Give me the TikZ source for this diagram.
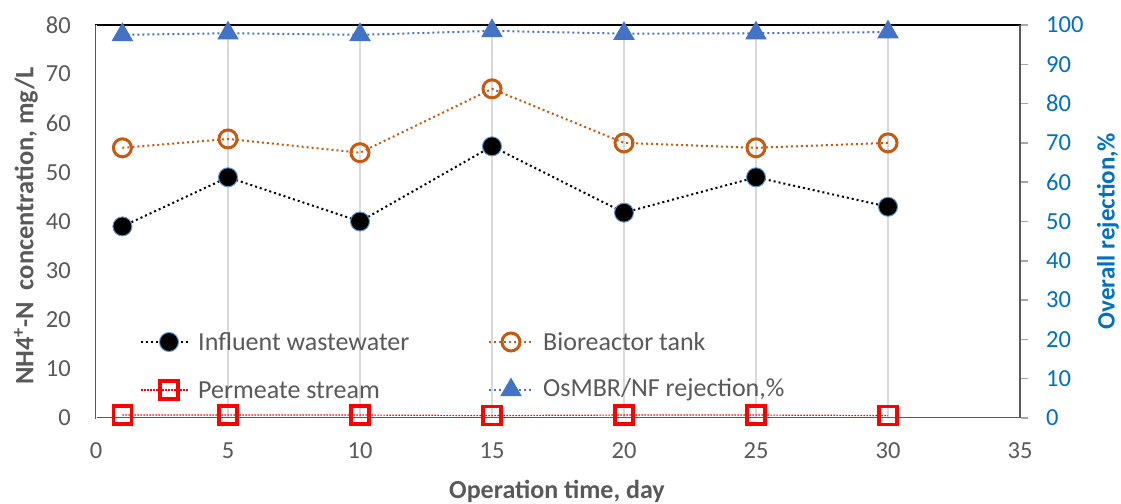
\documentclass[tikz,border=0pt]{standalone}
\usepackage{fontspec}
\setmainfont{Carlito}
\usetikzlibrary{shapes.geometric}
\definecolor{axgray}{HTML}{595959}
\definecolor{gridc}{HTML}{D9D9D9}
\definecolor{tickc}{HTML}{A6A6A6}
\definecolor{orng}{HTML}{C55A11}
\definecolor{trib}{HTML}{4472C4}
\definecolor{rblue}{HTML}{0070C0}
\definecolor{lblue}{HTML}{5B9BD5}
\definecolor{permred}{HTML}{FF0000}
\begin{document}
\begin{tikzpicture}[x=1pt,y=1pt,
  ticklab/.style={text=axgray,font=\fontsize{24.5}{26}\selectfont,inner sep=0},
  rticklab/.style={text=rblue,font=\fontsize{24.5}{26}\selectfont,inner sep=0,anchor=west},
  legtext/.style={text=axgray,font=\fontsize{26}{28}\selectfont,anchor=west,inner sep=0},
  axtitle/.style={font=\bfseries\fontsize{26}{28}\selectfont,inner sep=0},
  gridline/.style={gridc,line width=1.5},
  dotline/.style={line width=2,dash pattern=on 2pt off 3pt},
  infmark/.style={circle,fill=black,draw=lblue,line width=1,minimum size=19,inner sep=0},
  biomark/.style={circle,draw=orng,line width=3,minimum size=18,inner sep=0},
  permmark/.style={rectangle,draw=permred,line width=3.5,minimum size=18,inner sep=0},
  trimark/.style={regular polygon,regular polygon sides=3,fill=trib,minimum size=25,inner sep=0},
]
\useasboundingbox (0,0) rectangle (1121,503);
\fill[white] (0,0) rectangle (1121,503);
% grid
\foreach \d in {5,10,...,30} \draw[gridline] ({96+26.4*\d},85) -- ({96+26.4*\d},478);
% axes
\draw[black,line width=2.5] (95,478) -- (1021,478);
\draw[axgray,line width=2] (1020,85) -- (1020,478);
\draw[axgray,double=white,double distance=0.8pt,line width=1pt] (96,478) -- (96,85) -- (1020,85);
\foreach \k in {0,...,10} \draw[tickc,line width=1.5] (1021,{85+39.3*\k}) -- (1028,{85+39.3*\k});
% tick labels
\foreach \v [count=\k from 0] in {0,10,...,80}
  \node[ticklab,anchor=east] (yl\k) at (71,{85+49.125*\k}) {\v};
\foreach \v [count=\k from 0] in {0,5,...,35}
  \node[ticklab] (xl\k) at ({96+26.4*\v},52) {\v};
\foreach \v [count=\k from 0] in {0,10,...,100}
  \node[rticklab] (rl\k) at (1046,{85+39.3*\k}) {\v};
% axis titles
\node[axtitle,text=axgray] (xt) at (557,12) {Operation time, day};
\node[axtitle,text=axgray,rotate=90,font=\bfseries\fontsize{26.5}{28}\selectfont] (yt) at (26,277) {NH4\textsuperscript{+}-N\ \ concentration, mg/L};
\node[axtitle,text=rblue,rotate=90,font=\bfseries\fontsize{25}{28}\selectfont] (rt) at (1108,272) {Overall rejection,\%};
% data
\begin{scope}[shift={(96,85)},x=26.4pt,y=4.9125pt]
  \foreach \d/\v [count=\i] in {1/39,5/49,10/40,15/55.3,20/41.8,25/49,30/43}
    \coordinate (i\i) at (\d,\v);
  \foreach \d/\v [count=\i] in {1/55,5/56.8,10/54,15/67,20/56,25/55,30/56}
    \coordinate (b\i) at (\d,\v);
  \foreach \d/\v [count=\i] in {1/0.6,5/0.6,10/0.6,15/0.5,20/0.6,25/0.6,30/0.5}
    \coordinate (p\i) at (\d,\v);
\end{scope}
\begin{scope}[shift={(96,85)},x=26.4pt,y=3.93pt]
  \foreach \d/\v [count=\i] in {1/97.5,5/97.9,10/97.5,15/98.5,20/97.8,25/97.9,30/98.2}
    \coordinate (t\i) at (\d,\v);
\end{scope}
\draw[dotline,black] (i1)--(i2)--(i3)--(i4)--(i5)--(i6)--(i7);
\draw[dotline,orng] (b1)--(b2)--(b3)--(b4)--(b5)--(b6)--(b7);
\draw[line width=1.2,dash pattern=on 1.5pt off 1.5pt,permred] (p1)--(p2)--(p3)--(p4)--(p5)--(p6)--(p7);
\draw[dotline,trib] (t1)--(t2)--(t3)--(t4)--(t5)--(t6)--(t7);
\foreach \i in {1,...,7} {
  \node[infmark] (mi\i) at (i\i) {};
  \node[biomark] (mb\i) at (b\i) {};
  \node[permmark] (mp\i) at (p\i) {};
  \node[trimark] (mt\i) at (t\i) {};
}
% legend
\coordinate (la1) at (141,161); \coordinate (lb1) at (189,161);
\coordinate (la2) at (489,161); \coordinate (lb2) at (534,161);
\coordinate (la3) at (141,113); \coordinate (lb3) at (189,113);
\coordinate (la4) at (489,113); \coordinate (lb4) at (534,113);
\draw[dotline,black] (la1) -- (lb1);
\draw[dotline,orng] (la2) -- (lb2);
\draw[line width=1.2,dash pattern=on 1.5pt off 1.5pt,permred] (la3) -- (lb3);
\draw[dotline,trib] (la4) -- (lb4);
\node[infmark] (lm1) at (169,161) {};
\node[biomark] (lm2) at (511,161) {};
\node[permmark] (lm3) at (169,113) {};
\node[trimark] (lm4) at (511,113) {};
\node[legtext] (lt1) at (198,161) {Influent wastewater};
\node[legtext] (lt2) at (543,161) {Bioreactor tank};
\node[legtext] (lt3) at (198,113) {Permeate stream};
\node[legtext] (lt4) at (543,113) {OsMBR/NF rejection,\%};
\end{tikzpicture}
\end{document}
